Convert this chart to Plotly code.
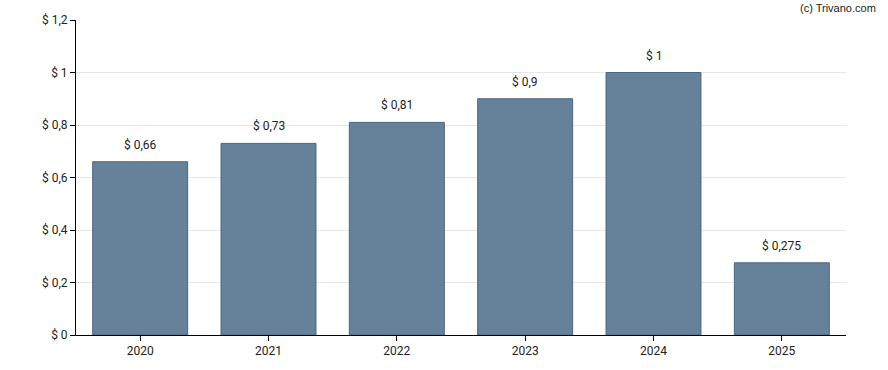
import plotly.graph_objects as go

years = ["2020", "2021", "2022", "2023", "2024", "2025"]
values = [0.66, 0.73, 0.81, 0.9, 1.0, 0.275]
bar_labels = ["$ 0,66", "$ 0,73", "$ 0,81", "$ 0,9", "$ 1", "$ 0,275"]
y_tickvals = [0, 0.2, 0.4, 0.6, 0.8, 1.0, 1.2]
y_ticktext = ["$ 0", "$ 0,2", "$ 0,4", "$ 0,6", "$ 0,8", "$ 1", "$ 1,2"]

positions = list(range(len(years)))

fig = go.Figure()
fig.add_trace(go.Bar(
    x=positions, y=values,
    marker=dict(color="#66829a", line=dict(color="#4a6580", width=1)),
    width=0.74, hoverinfo="y",
))

annotations = [
    dict(x=p, y=v, text=lab, xref="x", yref="y", showarrow=False,
         yanchor="bottom", yshift=8,
         font=dict(family="Roboto", size=12, color="#222222"))
    for p, v, lab in zip(positions, values, bar_labels)
]
annotations.append(dict(
    text="(c) Trivano.com", xref="paper", yref="paper",
    x=1.0, y=1.0, xanchor="right", yanchor="middle",
    xshift=32, yshift=12, showarrow=False,
    font=dict(family="Arial", size=11, color="#222222"),
))

fig.update_layout(
    width=888, height=370,
    margin=dict(l=76, r=42, t=20, b=35),
    paper_bgcolor="white", plot_bgcolor="white",
    font=dict(family="Roboto", size=12, color="#222222"),
    showlegend=False,
    xaxis=dict(
        type="linear", range=[-0.5, len(years) - 0.5],
        tickvals=positions, ticktext=years,
        showline=True, linecolor="black", linewidth=1,
        ticks="outside", ticklen=5, tickcolor="black",
        showgrid=False, zeroline=False, tickfont=dict(size=12), automargin=False,
    ),
    yaxis=dict(
        range=[0, 1.2], tickvals=y_tickvals, ticktext=y_ticktext,
        showline=True, linecolor="black", linewidth=1,
        ticks="outside", ticklen=5, tickcolor="black",
        showgrid=True, gridcolor="#e6e6e6", gridwidth=1,
        zeroline=False, tickfont=dict(size=12), automargin=False,
    ),
    annotations=annotations,
)

fig.write_html("out.html", config={"displayModeBar": False},
               post_script="document.body.style.margin='0';")
